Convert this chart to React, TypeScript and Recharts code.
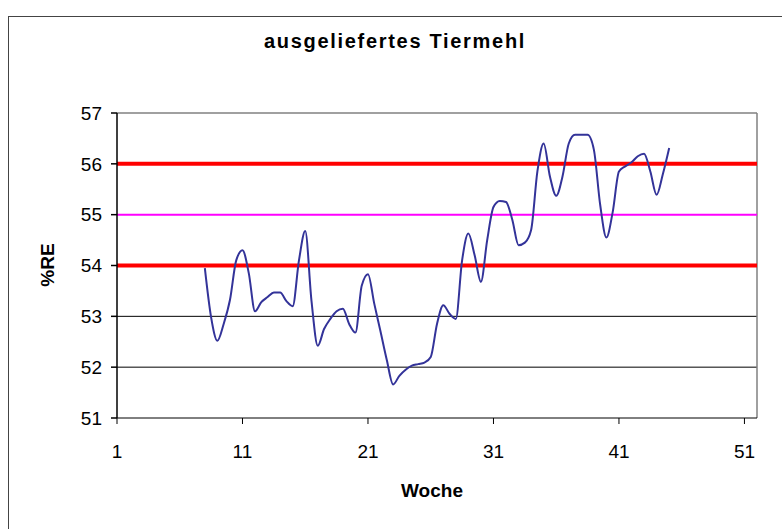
import { LineChart, Line, XAxis, YAxis, ReferenceLine } from 'recharts';

// Woche (Halbwochen-Raster)
const weeks = [
  8, 8.5, 9, 9.5, 10, 10.5, 11, 11.5, 12, 12.5, 13, 13.5, 14, 14.5, 15, 15.5, 16, 16.5,
  17, 17.5, 18, 18.5, 19, 19.5, 20, 20.5, 21, 21.5, 22, 22.5, 23, 23.5, 24, 24.5, 25, 25.5,
  26, 26.5, 27, 27.5, 28, 28.5, 29, 29.5, 30, 30.5, 31, 31.5, 32, 32.5, 33, 33.5, 34, 34.5,
  35, 35.5, 36, 36.5, 37, 37.5, 38, 38.5, 39, 39.5, 40, 40.5, 41, 41.5, 42, 42.5, 43, 43.5,
  44, 44.5, 45,
];

// %RE
const reValues = [
  53.95, 52.98, 52.52, 52.85, 53.32, 54.1, 54.3, 53.85, 53.1, 53.28, 53.38, 53.47, 53.47, 53.3,
  53.2, 54.1, 54.68, 53.3, 52.42, 52.75, 52.95, 53.1, 53.15, 52.85, 52.68, 53.6, 53.83, 53.25,
  52.7, 52.14, 51.66, 51.83, 51.95, 52.03, 52.06, 52.09, 52.2, 52.85, 53.22, 53.05, 52.95, 54.1,
  54.63, 54.2, 53.68, 54.5, 55.15, 55.27, 55.25, 54.9, 54.4, 54.45, 54.7, 55.85, 56.4, 55.75,
  55.37, 55.75, 56.4, 56.57, 56.57, 56.57, 56.28, 55.2, 54.55, 55.05, 55.85, 55.95, 56.03, 56.15,
  56.2, 55.85, 55.39, 55.8, 56.31,
];

const xTicks = [1, 11, 21, 31, 41, 51];
const yTicks = [51, 52, 53, 54, 55, 56, 57];
const limits = [54, 56];
const target = 55;
const gridValues = [52, 53];

const data = weeks.map((w, i) => ({ woche: w, re: reValues[i] }));

const FONT = '"Liberation Sans", Arial, sans-serif';

export default function App() {
  return (
    <div style={{ position: 'absolute', left: 8, top: 16, width: 774, height: 513, fontFamily: FONT }}>
      <div
        style={{
          position: 'absolute',
          left: 0,
          top: 0,
          width: 780,
          height: 520,
          borderLeft: '1px solid #444',
          borderTop: '1px solid #444',
        }}
      />
      <div
        style={{
          position: 'absolute',
          left: 0,
          width: 774,
          top: 14,
          textAlign: 'center',
          fontSize: 20,
          fontWeight: 'bold',
          letterSpacing: 1.7,
        }}
      >
        ausgeliefertes Tiermehl
      </div>
      <div
        style={{
          position: 'absolute',
          left: 40,
          top: 249,
          transform: 'translate(-50%, -50%) rotate(-90deg)',
          fontSize: 19,
          fontWeight: 'bold',
        }}
      >
        %RE
      </div>
      <div
        style={{
          position: 'absolute',
          left: 424,
          top: 475,
          transform: 'translate(-50%, -50%)',
          fontSize: 19,
          fontWeight: 'bold',
        }}
      >
        Woche
      </div>
      <LineChart width={774} height={513} data={data} margin={{ top: 97, right: 25, left: 0, bottom: 0 }}>
        <XAxis
          dataKey="woche"
          type="number"
          domain={[1, 52]}
          ticks={xTicks}
          allowDataOverflow
          height={111}
          tickSize={6}
          tickMargin={21}
          stroke="#000"
          tick={{ fill: '#000', fontSize: 19, fontFamily: FONT }}
        />
        <YAxis
          type="number"
          domain={[51, 57]}
          ticks={yTicks}
          width={109}
          tickSize={6}
          tickMargin={9}
          stroke="#000"
          strokeWidth={1.5}
          tick={{ fill: '#000', fontSize: 19, fontFamily: FONT }}
        />
        {gridValues.map((v) => (
          <ReferenceLine key={v} y={v} stroke="#000" strokeWidth={1} />
        ))}
        <ReferenceLine y={57} stroke="#808080" strokeWidth={1.5} />
        <ReferenceLine x={52} stroke="#808080" strokeWidth={1.5} />
        <ReferenceLine y={target} stroke="#ff00ff" strokeWidth={2} />
        {limits.map((v) => (
          <ReferenceLine key={v} y={v} stroke="#ff0000" strokeWidth={4} />
        ))}
        <Line
          dataKey="re"
          type="monotone"
          stroke="#333399"
          strokeWidth={2}
          dot={false}
          isAnimationActive={false}
        />
      </LineChart>
    </div>
  );
}
